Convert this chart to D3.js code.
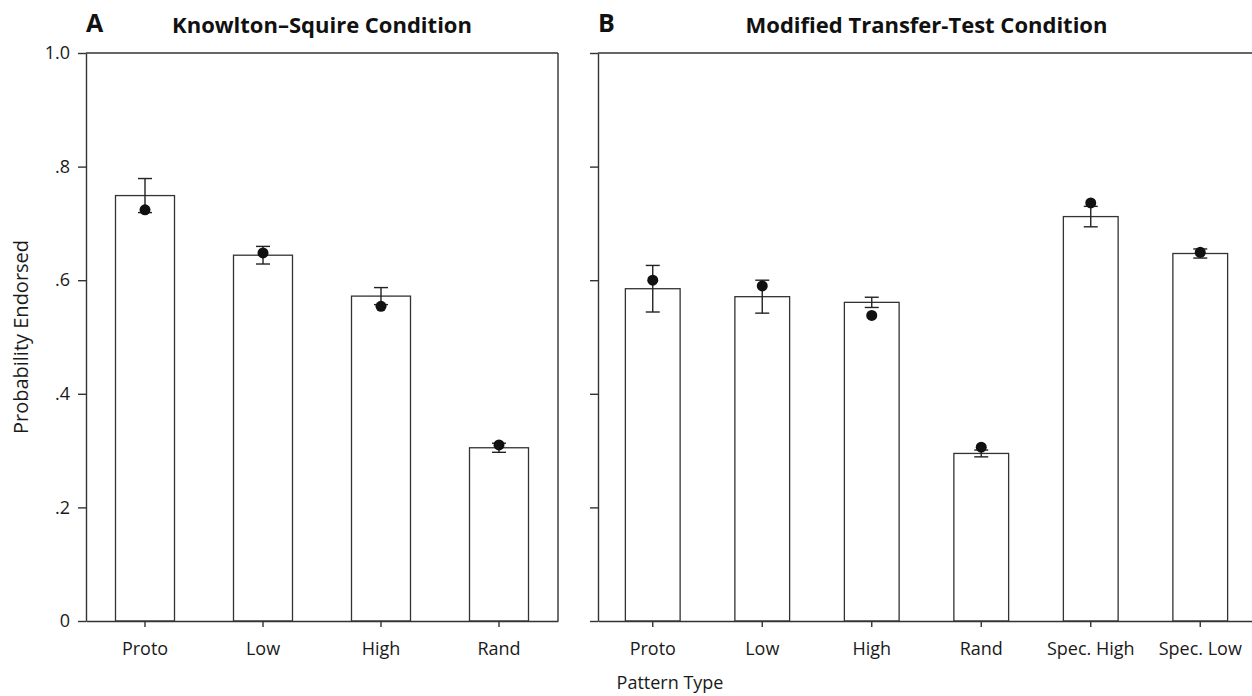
<!DOCTYPE html>
<meta charset="utf-8">
<html>
	<style>
/*		-----Body----*/
		body {
		  margin: 0;
		  background: #fff;
		  font-family: "Open Sans", "Noto Sans", sans-serif;
		}

/*		-----Axes----*/
		.axis .domain, .axis .tick line {
		  stroke: #333;
		  stroke-width: 1.4px;
		}
		.axis .tick text {
		  font-family: "Open Sans", "Noto Sans", sans-serif;
		  font-size: 18px;
		  fill: #1a1a1a;
		}
	</style>

<body>
	<div id="plot"></div>

	<script src="https://d3js.org/d3.v7.min.js"></script>
<script>
	//		-----Data-----
	const cats_a = ["Proto", "Low", "High", "Rand"]
	const bar_a  = [0.749, 0.644, 0.572, 0.305]
	const err_a  = [0.030, 0.0155, 0.015, 0.008]
	const dot_a  = [0.724, 0.648, 0.554, 0.310]

	const cats_b = ["Proto", "Low", "High", "Rand", "Spec. High", "Spec. Low"]
	const bar_b  = [0.585, 0.571, 0.561, 0.295, 0.712, 0.647]
	const err_b  = [0.041, 0.029, 0.009, 0.006, 0.018, 0.008]
	const dot_b  = [0.600, 0.590, 0.538, 0.306, 0.736, 0.649]

	const y_ticks = [0, 0.2, 0.4, 0.6, 0.8, 1.0]
	const y_tick_labels = ["0", ".2", ".4", ".6", ".8", "1.0"]

	//		-----Definitions-----
	const width = 1252, height = 696
	const top_y = 53, base_y = 621
	const line_col = "#333"

	var svg = d3.select("#plot")
				.append("svg")
					.attr("width", width)
					.attr("height", height)

	var y = d3.scaleLinear()
			  .domain([0, 1])
			  .range([base_y, top_y])

	// one panel: axes, frame, bars, error bars, dots
	function draw_panel(x0, x1, cats, bars, errs, dots, letter, title, show_y_labels, close_right) {

		var x = d3.scaleBand()
				  .domain(cats)
				  .range([x0, x1])
				  .paddingInner(0.5)
				  .paddingOuter(0.25)

		var data = cats.map((c, i) => ({cat: c, bar: bars[i], err: errs[i], dot: dots[i]}))

		// frame (top and right)
		svg.append("line")
		   .attr("x1", x0).attr("x2", x1)
		   .attr("y1", top_y).attr("y2", top_y)
		   .attr("stroke", line_col).attr("stroke-width", 1.4)
		if (close_right) {
			svg.append("line")
			   .attr("x1", x1).attr("x2", x1)
			   .attr("y1", top_y).attr("y2", base_y)
			   .attr("stroke", line_col).attr("stroke-width", 1.4)
		}

		// bars
		svg.append("g")
		   .selectAll("rect")
		   .data(data)
		   .join("rect")
			   .attr("x", d => x(d.cat))
			   .attr("y", d => y(d.bar))
			   .attr("width", x.bandwidth())
			   .attr("height", d => base_y - y(d.bar))
			   .attr("fill", "#fff")
			   .attr("stroke", line_col)
			   .attr("stroke-width", 1.3)

		// error bars
		var cap = 7
		var eb = svg.append("g")
					.attr("stroke", "#222")
					.attr("stroke-width", 1.4)
		eb.selectAll(".stem")
		  .data(data)
		  .join("line")
			  .attr("x1", d => x(d.cat) + x.bandwidth() / 2)
			  .attr("x2", d => x(d.cat) + x.bandwidth() / 2)
			  .attr("y1", d => y(d.bar + d.err))
			  .attr("y2", d => y(d.bar - d.err))
		eb.selectAll(".cap_hi")
		  .data(data)
		  .join("line")
			  .attr("x1", d => x(d.cat) + x.bandwidth() / 2 - cap)
			  .attr("x2", d => x(d.cat) + x.bandwidth() / 2 + cap)
			  .attr("y1", d => y(d.bar + d.err))
			  .attr("y2", d => y(d.bar + d.err))
		eb.selectAll(".cap_lo")
		  .data(data)
		  .join("line")
			  .attr("x1", d => x(d.cat) + x.bandwidth() / 2 - cap)
			  .attr("x2", d => x(d.cat) + x.bandwidth() / 2 + cap)
			  .attr("y1", d => y(d.bar - d.err))
			  .attr("y2", d => y(d.bar - d.err))

		// dots
		svg.append("g")
		   .selectAll("circle")
		   .data(data)
		   .join("circle")
			   .attr("cx", d => x(d.cat) + x.bandwidth() / 2)
			   .attr("cy", d => y(d.dot))
			   .attr("r", 5.5)
			   .attr("fill", "#111")

		// x axis
		svg.append("g")
		   .attr("class", "axis")
		   .attr("transform", "translate(0," + base_y + ")")
		   .call(d3.axisBottom(x).tickSize(6).tickSizeOuter(0).tickPadding(15))

		// y axis
		svg.append("g")
		   .attr("class", "axis")
		   .attr("transform", "translate(" + x0 + ",0)")
		   .call(d3.axisLeft(y)
				   .tickValues(y_ticks)
				   .tickFormat((d, i) => show_y_labels ? y_tick_labels[i] : "")
				   .tickSize(8)
				   .tickSizeOuter(0)
				   .tickPadding(8))

		// panel letter and title
		svg.append("text")
		   .attr("x", x0)
		   .attr("y", 32)
		   .attr("font-size", "25px")
		   .attr("font-weight", "bold")
		   .attr("fill", "#111")
		   .text(letter)

		svg.append("text")
		   .attr("x", (x0 + x1) / 2)
		   .attr("y", 33)
		   .attr("text-anchor", "middle")
		   .attr("font-size", "22px")
		   .attr("font-weight", "bold")
		   .attr("fill", "#111")
		   .text(title)
	}

	draw_panel(86, 558, cats_a, bar_a, err_a, dot_a, "A", "Knowlton–Squire Condition", true, true)
	draw_panel(598, 1255, cats_b, bar_b, err_b, dot_b, "B", "Modified Transfer-Test Condition", false, false)

	// axis labels
	svg.append("text")
	   .attr("transform", "translate(28," + (top_y + base_y) / 2 + ")rotate(-90)")
	   .attr("text-anchor", "middle")
	   .attr("font-size", "20px")
	   .attr("fill", "#1a1a1a")
	   .text("Probability Endorsed")

	svg.append("text")
	   .attr("x", 670)
	   .attr("y", 689)
	   .attr("text-anchor", "middle")
	   .attr("font-size", "18px")
	   .attr("fill", "#1a1a1a")
	   .text("Pattern Type")
</script>
</body>
</html>
